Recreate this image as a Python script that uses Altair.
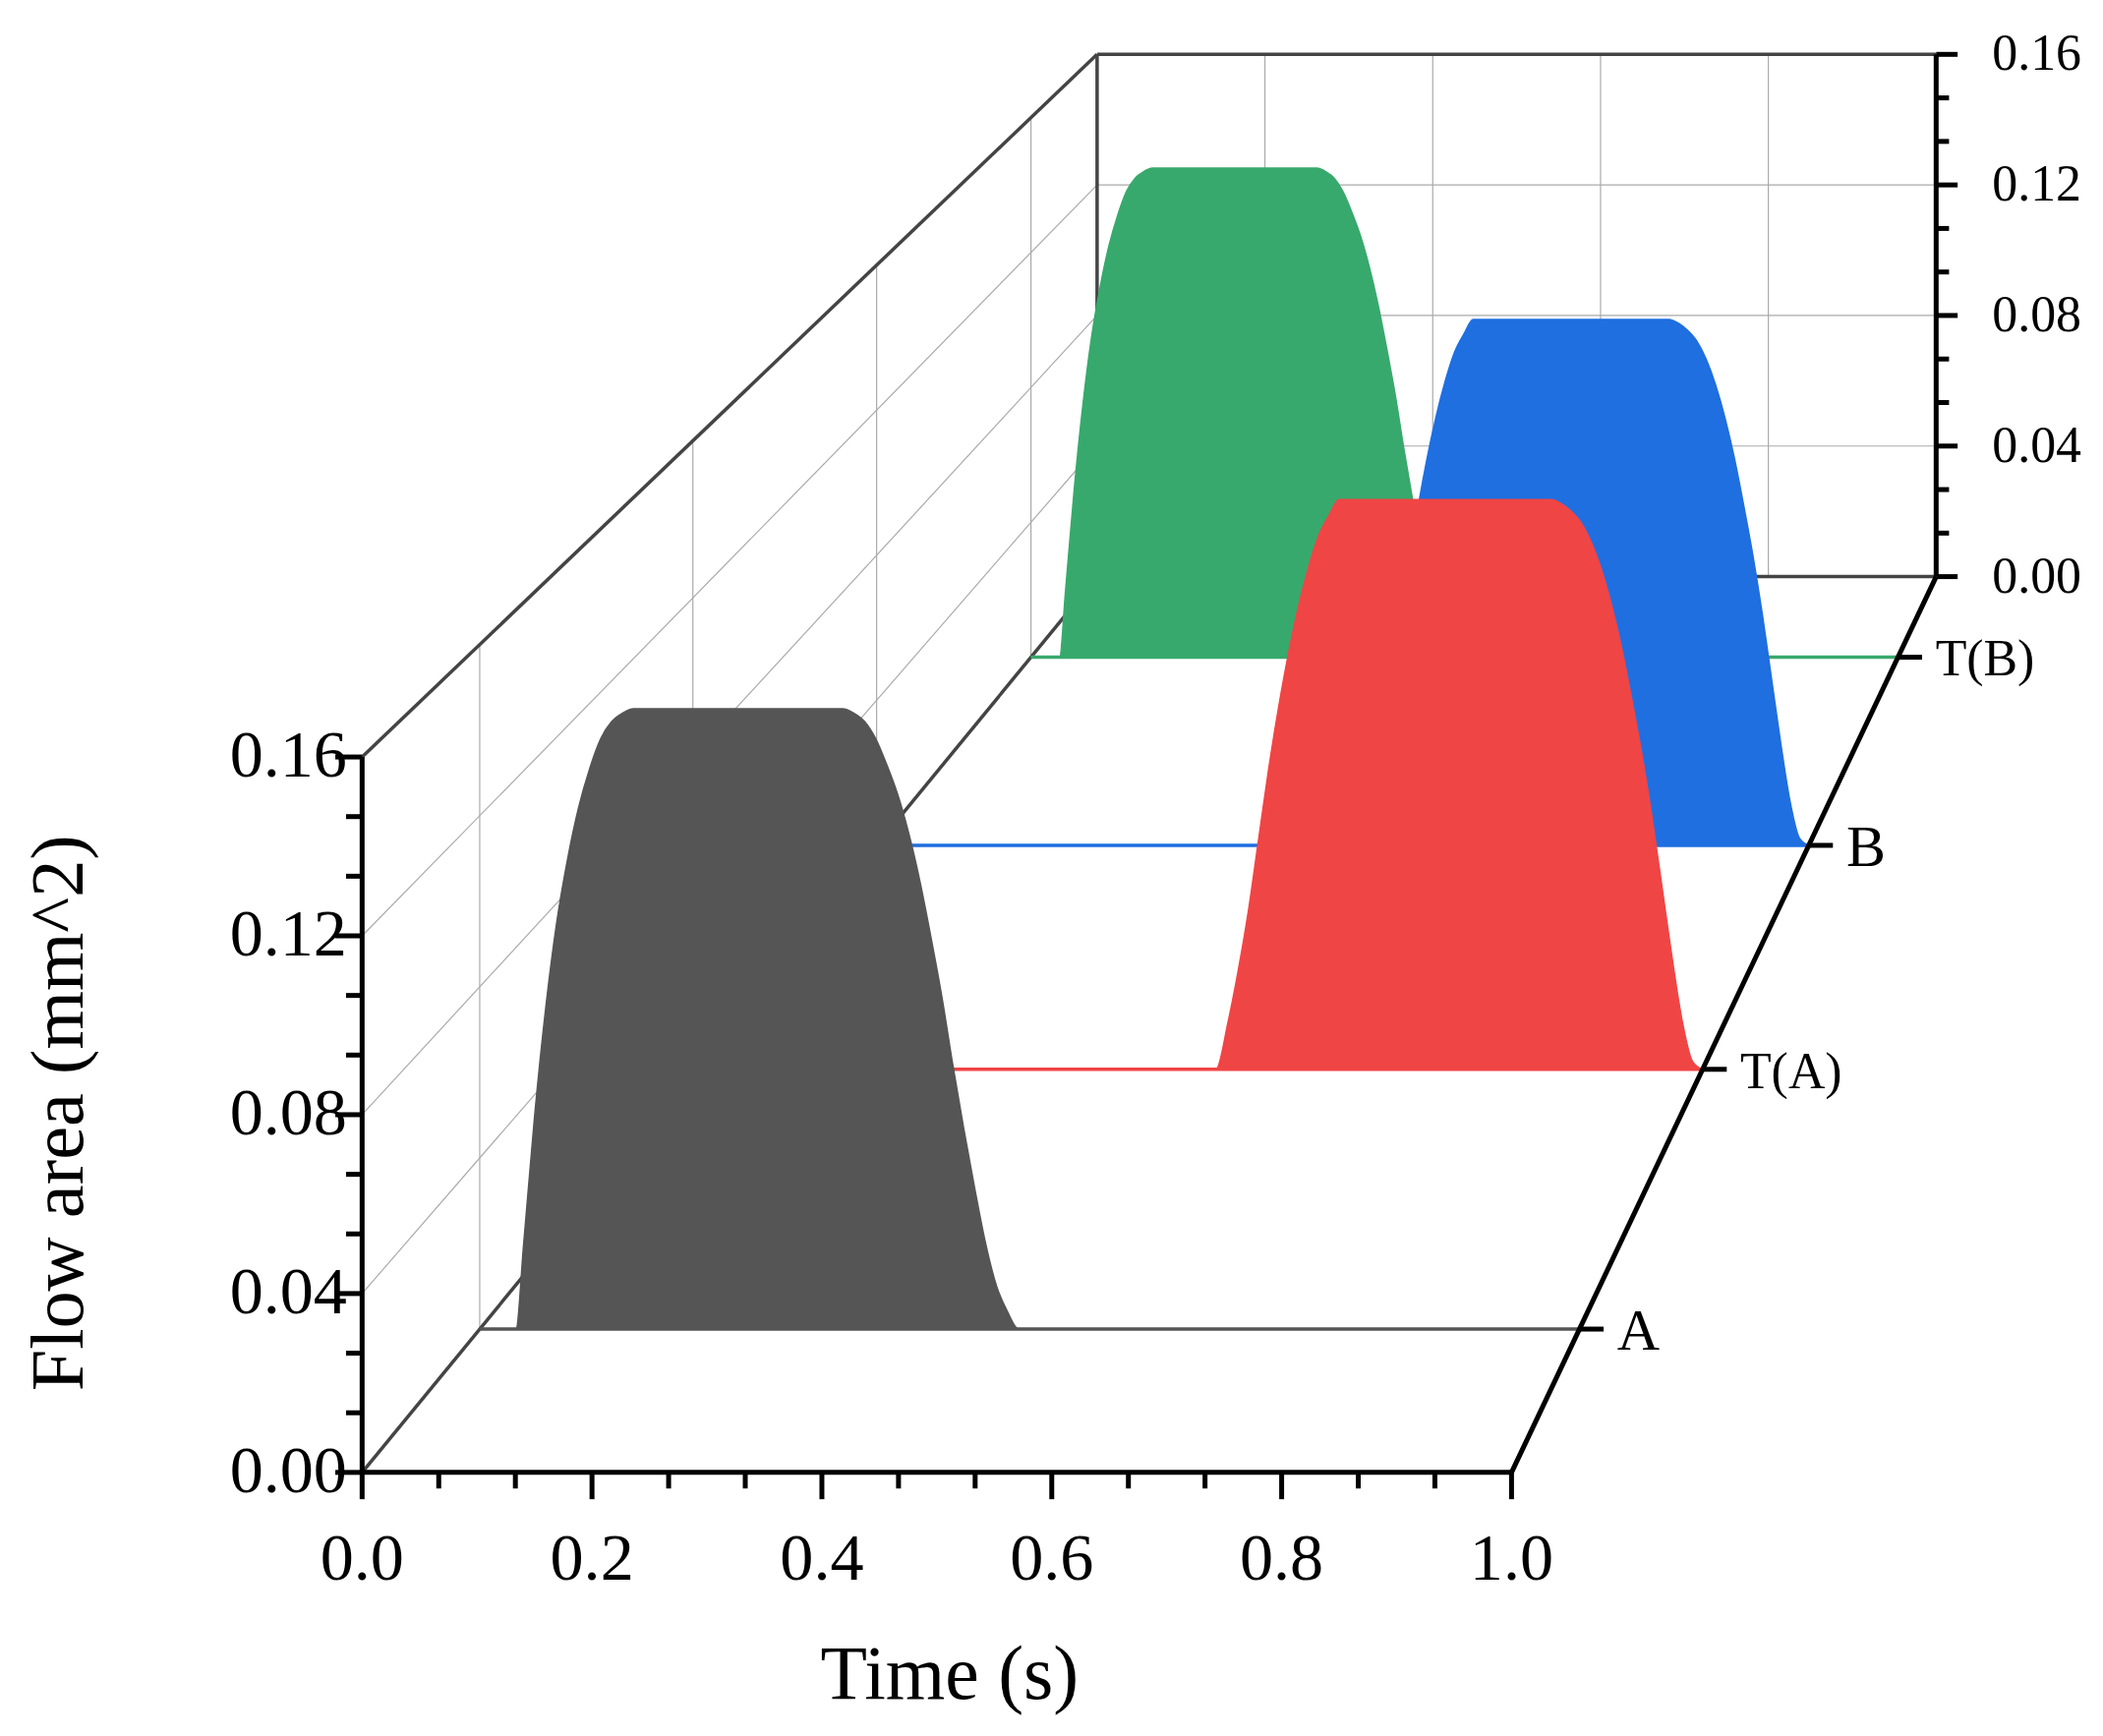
import altair as alt
import pandas as pd

# series, front to back
names = ["A", "T(A)", "B", "T(B)"]
depths = [0.16, 0.45, 0.70, 0.91]
colors = ["#555555", "#f04545", "#1f6fe0", "#38a96c"]

# flow area profiles
time_1 = [0, 0.033, 0.04, 0.05, 0.06, 0.07, 0.08, 0.09, 0.10, 0.11, 0.12, 0.13, 0.14,
          0.33, 0.34, 0.35, 0.36, 0.37, 0.38, 0.39, 0.40, 0.41, 0.42, 0.43, 0.44,
          0.45, 0.46, 0.47, 0.48, 0.49, 1.0]
flow_1 = [0, 0, 0.02, 0.05, 0.075, 0.095, 0.11, 0.122, 0.131, 0.138, 0.142, 0.144, 0.145,
          0.145, 0.144, 0.142, 0.138, 0.132, 0.125, 0.116, 0.105, 0.092, 0.078, 0.062, 0.047,
          0.033, 0.02, 0.01, 0.004, 0, 0]
time_2 = [0, 0.518, 0.53, 0.54, 0.55, 0.56, 0.57, 0.58, 0.59, 0.60, 0.61, 0.62, 0.63, 0.64,
          0.85, 0.86, 0.87, 0.88, 0.89, 0.90, 0.91, 0.92, 0.93, 0.94, 0.95, 0.96, 0.97,
          0.98, 0.99, 1.0]
flow_2 = [0, 0, 0.012, 0.025, 0.04, 0.058, 0.076, 0.092, 0.106, 0.118, 0.128, 0.136, 0.141, 0.145,
          0.145, 0.144, 0.142, 0.139, 0.134, 0.127, 0.118, 0.107, 0.094, 0.08, 0.064, 0.046, 0.028,
          0.012, 0.002, 0]
profiles = {"A": (time_1, flow_1), "T(A)": (time_2, flow_2),
            "B": (time_2, flow_2), "T(B)": (time_1, flow_1)}

x_labels = ["0.0", "0.2", "0.4", "0.6", "0.8", "1.0"]
y_labels = ["0.00", "0.04", "0.08", "0.12", "0.16"]

FONT = "Liberation Serif"
K = 2139 / 1568  # display units -> page pixels


def px(t, d, v):
    return f"270 + 548*datum.{d} + 857*(1-0.27*datum.{d})*datum.{t}"


def py(t, d, v):
    return f"1098 - 668*datum.{d} - 3334.4*(1-0.27*datum.{d})*datum.{v}"


X = lambda f: alt.X(f"{f}:Q", scale=alt.Scale(domain=[8 / K, 2131 / K], nice=False, zero=False), axis=None)
Y = lambda f: alt.Y(f"{f}:Q", scale=alt.Scale(domain=[8 / K, 1758 / K], nice=False, zero=False, reverse=True), axis=None)


def segs(rows, color, width):
    df = pd.DataFrame(rows, columns=["t", "d", "v", "t2", "d2", "v2", "ox", "oy", "ox2", "oy2"])
    return alt.Chart(df).transform_calculate(
        X1=px("t", "d", "v") + " + datum.ox", Y1=py("t", "d", "v") + " + datum.oy",
        X2=px("t2", "d2", "v2") + " + datum.ox2", Y2=py("t2", "d2", "v2") + " + datum.oy2",
    ).mark_rule(color=color, strokeWidth=width).encode(
        x=X("X1"), y=Y("Y1"), x2="X2:Q", y2="Y2:Q")


def seg(a, b, off=(0, 0, 0, 0)):
    return list(a) + list(b) + list(off)


# gray gridlines
grid = []
for t in [0.2, 0.4, 0.6, 0.8]:
    grid.append(seg((t, 1, 0), (t, 1, 0.16)))
for v in [0.04, 0.08, 0.12]:
    grid.append(seg((0, 1, v), (1, 1, v)))
    grid.append(seg((0, 0, v), (0, 1, v)))
for d in depths:
    grid.append(seg((0, d, 0), (0, d, 0.16)))

frame = [
    seg((0, 0, 0.16), (0, 1, 0.16)),
    seg((0, 1, 0.16), (1, 1, 0.16)),
    seg((0, 1, 0), (0, 1, 0.16)),
    seg((0, 0, 0), (0, 1, 0)),
    seg((0, 1, 0), (1, 1, 0)),
]

axes = [
    seg((0, 0, 0), (0, 0, 0.16)),
    seg((0, 0, 0), (1, 0, 0)),
    seg((1, 0, 0), (1, 1, 0)),
    seg((1, 1, 0), (1, 1, 0.16)),
]
for i in range(13):
    v = 0.16 * i / 12
    L = 20 if i % 3 == 0 else 12
    axes.append(seg((0, 0, v), (0, 0, v), (0, 0, -L, 0)))
    axes.append(seg((1, 1, v), (1, 1, v), (0, 0, L * 0.8, 0)))
for i in range(16):
    t = i / 15
    L = 20 if i % 3 == 0 else 12
    axes.append(seg((t, 0, 0), (t, 0, 0), (0, 0, 0, L)))
for d in depths:
    axes.append(seg((1, d, 0), (1, d, 0), (0, 0, 18, 0)))

layers = [segs(grid, "#aaaaaa", 1.2), segs(frame, "#444444", 3.5)]

# series back to front
for name, d, c in reversed(list(zip(names, depths, colors))):
    ts, vs = profiles[name]
    df = pd.DataFrame({"t": ts, "v": vs, "d": d, "z": 0.0})
    base = alt.Chart(df).transform_calculate(
        X=px("t", "d", "v"), Y=py("t", "d", "v"), Y0=py("t", "d", "z"))
    layers.append(base.mark_line(color=c, strokeWidth=3.5).encode(x=X("X"), y=Y("Y0")))
    layers.append(base.mark_area(color=c, opacity=1, stroke=c, strokeWidth=1.5, interpolate="monotone")
                  .encode(x=X("X"), y=Y("Y"), y2="Y0:Q"))

layers.append(segs(axes, "#000000", 5))

# text labels
txt = []
for i, s in enumerate(x_labels):
    txt.append(dict(t=i * 0.2, d=0, v=0, ox=0, oy=65, text=s, align="center", size=50))
for i, s in enumerate(y_labels):
    txt.append(dict(t=0, d=0, v=i * 0.04, ox=-55, oy=0, text=s, align="center", size=50))
    txt.append(dict(t=1, d=1, v=i * 0.04, ox=75, oy=0, text=s, align="center", size=38))
for name, d in zip(names, depths):
    txt.append(dict(t=1, d=d, v=0, ox=28, oy=2, text=name, align="left",
                    size=44 if name in ("A", "B") else 38))
tdf = pd.DataFrame(txt)
for sz in sorted(tdf["size"].unique()):
    for al in ["center", "left"]:
        sub = tdf[(tdf["size"] == sz) & (tdf["align"] == al)]
        if len(sub) == 0:
            continue
        layers.append(alt.Chart(sub).transform_calculate(
            X=px("t", "d", "v") + " + datum.ox", Y=py("t", "d", "v") + " + datum.oy",
        ).mark_text(font=FONT, fontSize=float(sz) * K, align=al, baseline="middle", color="black")
            .encode(x=X("X"), y=Y("Y"), text="text:N"))

titles = pd.DataFrame({"x": [708], "y": [1250], "text": ["Time (s)"]})
layers.append(alt.Chart(titles).mark_text(font=FONT, fontSize=57 * K, baseline="middle")
              .encode(x=X("x"), y=Y("y"), text="text:N"))
ytitle = pd.DataFrame({"x": [45], "y": [830], "text": ["Flow area (mm^2)"]})
layers.append(alt.Chart(ytitle).mark_text(font=FONT, fontSize=56 * K, baseline="middle", angle=270)
              .encode(x=X("x"), y=Y("y"), text="text:N"))

chart = alt.layer(*layers).properties(
    width=2123, height=1750, autosize=alt.AutoSizeParams(type="none"), padding=0
).configure_view(stroke=None)

chart.save("out.html", embed_options={"renderer": "svg", "actions": False})
